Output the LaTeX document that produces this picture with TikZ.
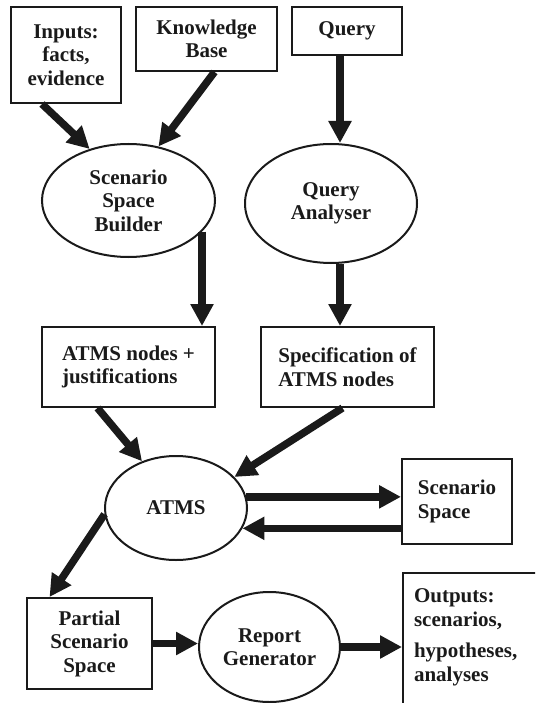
\documentclass[tikz,border=0pt]{standalone}
\usepackage{fontspec}
\setmainfont{Liberation Serif}
\usepackage{tikz}
\usetikzlibrary{arrows.meta,positioning,shapes.geometric}
\definecolor{diagInk}{RGB}{26,26,26}

\begin{document}
\begin{tikzpicture}[x=1pt,y=-1pt,
  every node/.style={font=\fontsize{21}{23.5}\selectfont\bfseries, text=diagInk},
  box/.style={draw=diagInk, line width=2pt, rectangle, inner sep=0pt, align=center},
  oval/.style={draw=diagInk, line width=2pt, ellipse, inner sep=0pt, align=center},
  flow/.style={draw=diagInk, line width=7.5pt, -{Triangle[length=22pt,width=22pt]}}]
\useasboundingbox (0,0) rectangle (535,703);
\clip (0,0) rectangle (535,703);

\node[box, minimum width=110pt, minimum height=96pt] (inputs) at (66,55) {Inputs:\\facts,\\evidence};
\node[box, minimum width=141pt, minimum height=64pt] (kb) at (206.5,39) {Knowledge\\Base};
\node[box, minimum width=110pt, minimum height=48pt] (query) at (347,31) {Query};
\node[oval, minimum width=173pt, minimum height=113pt] (ssb) at (128.5,200.5) {Scenario\\Space\\Builder};
\node[oval, minimum width=172pt, minimum height=119pt] (qa) at (331,203.5) {Query\\Analyser};
\node[box, align=left, minimum width=173pt, minimum height=80pt] (anodes) at (128.5,367) {ATMS nodes +\\justifications};
\node[box, align=left, minimum width=173pt, minimum height=80pt] (spec) at (347.5,367) {Specification of\\ATMS nodes};
\node[oval, minimum width=142pt, minimum height=104pt] (atms) at (176,508) {ATMS};
\node[box, align=left, minimum width=110pt, minimum height=85pt] (scspace) at (457,501.5) {Scenario\\Space};
\node[box, minimum width=125pt, minimum height=91pt] (partial) at (89.5,643.5) {Partial\\Scenario\\Space};
\node[oval, minimum width=141pt, minimum height=110pt] (report) at (269.5,647) {Report\\Generator};
\node[box, anchor=north west, align=left, inner xsep=11pt, inner ysep=16pt, text width=130pt, text depth=130pt] (outputs) at (402,572) {Outputs:\\scenarios,\\[8pt]hypotheses,\\analyses};

\draw[flow] ([xshift=-24pt]inputs.south) -- (ssb.127);
\draw[flow] ([xshift=8pt]kb.south) -- (ssb.61);
\draw[flow] ([xshift=-7pt]query.south) -- ([xshift=9pt]qa.north);
\draw[flow] (ssb.-23) -- (ssb.-23 |- anodes.north);
\draw[flow] ([xshift=9pt]qa.south) -- ([xshift=9pt]qa.south |- spec.north);
\draw[flow] ([xshift=-31pt]anodes.south) -- (atms.126);
\draw[flow] ([xshift=-5pt]spec.south) -- (atms.28);
\draw[flow] (atms.9) -- (atms.9 -| scspace.west);
\draw[flow] (atms.-17 -| scspace.west) -- (atms.-17);
\draw[flow] (atms.185) -- ([xshift=-40pt]partial.north);
\draw[flow] (partial.east) -- (partial.east -| report.west);
\draw[flow] (report.east) -- (report.east -| outputs.west);
\end{tikzpicture}
\end{document}
